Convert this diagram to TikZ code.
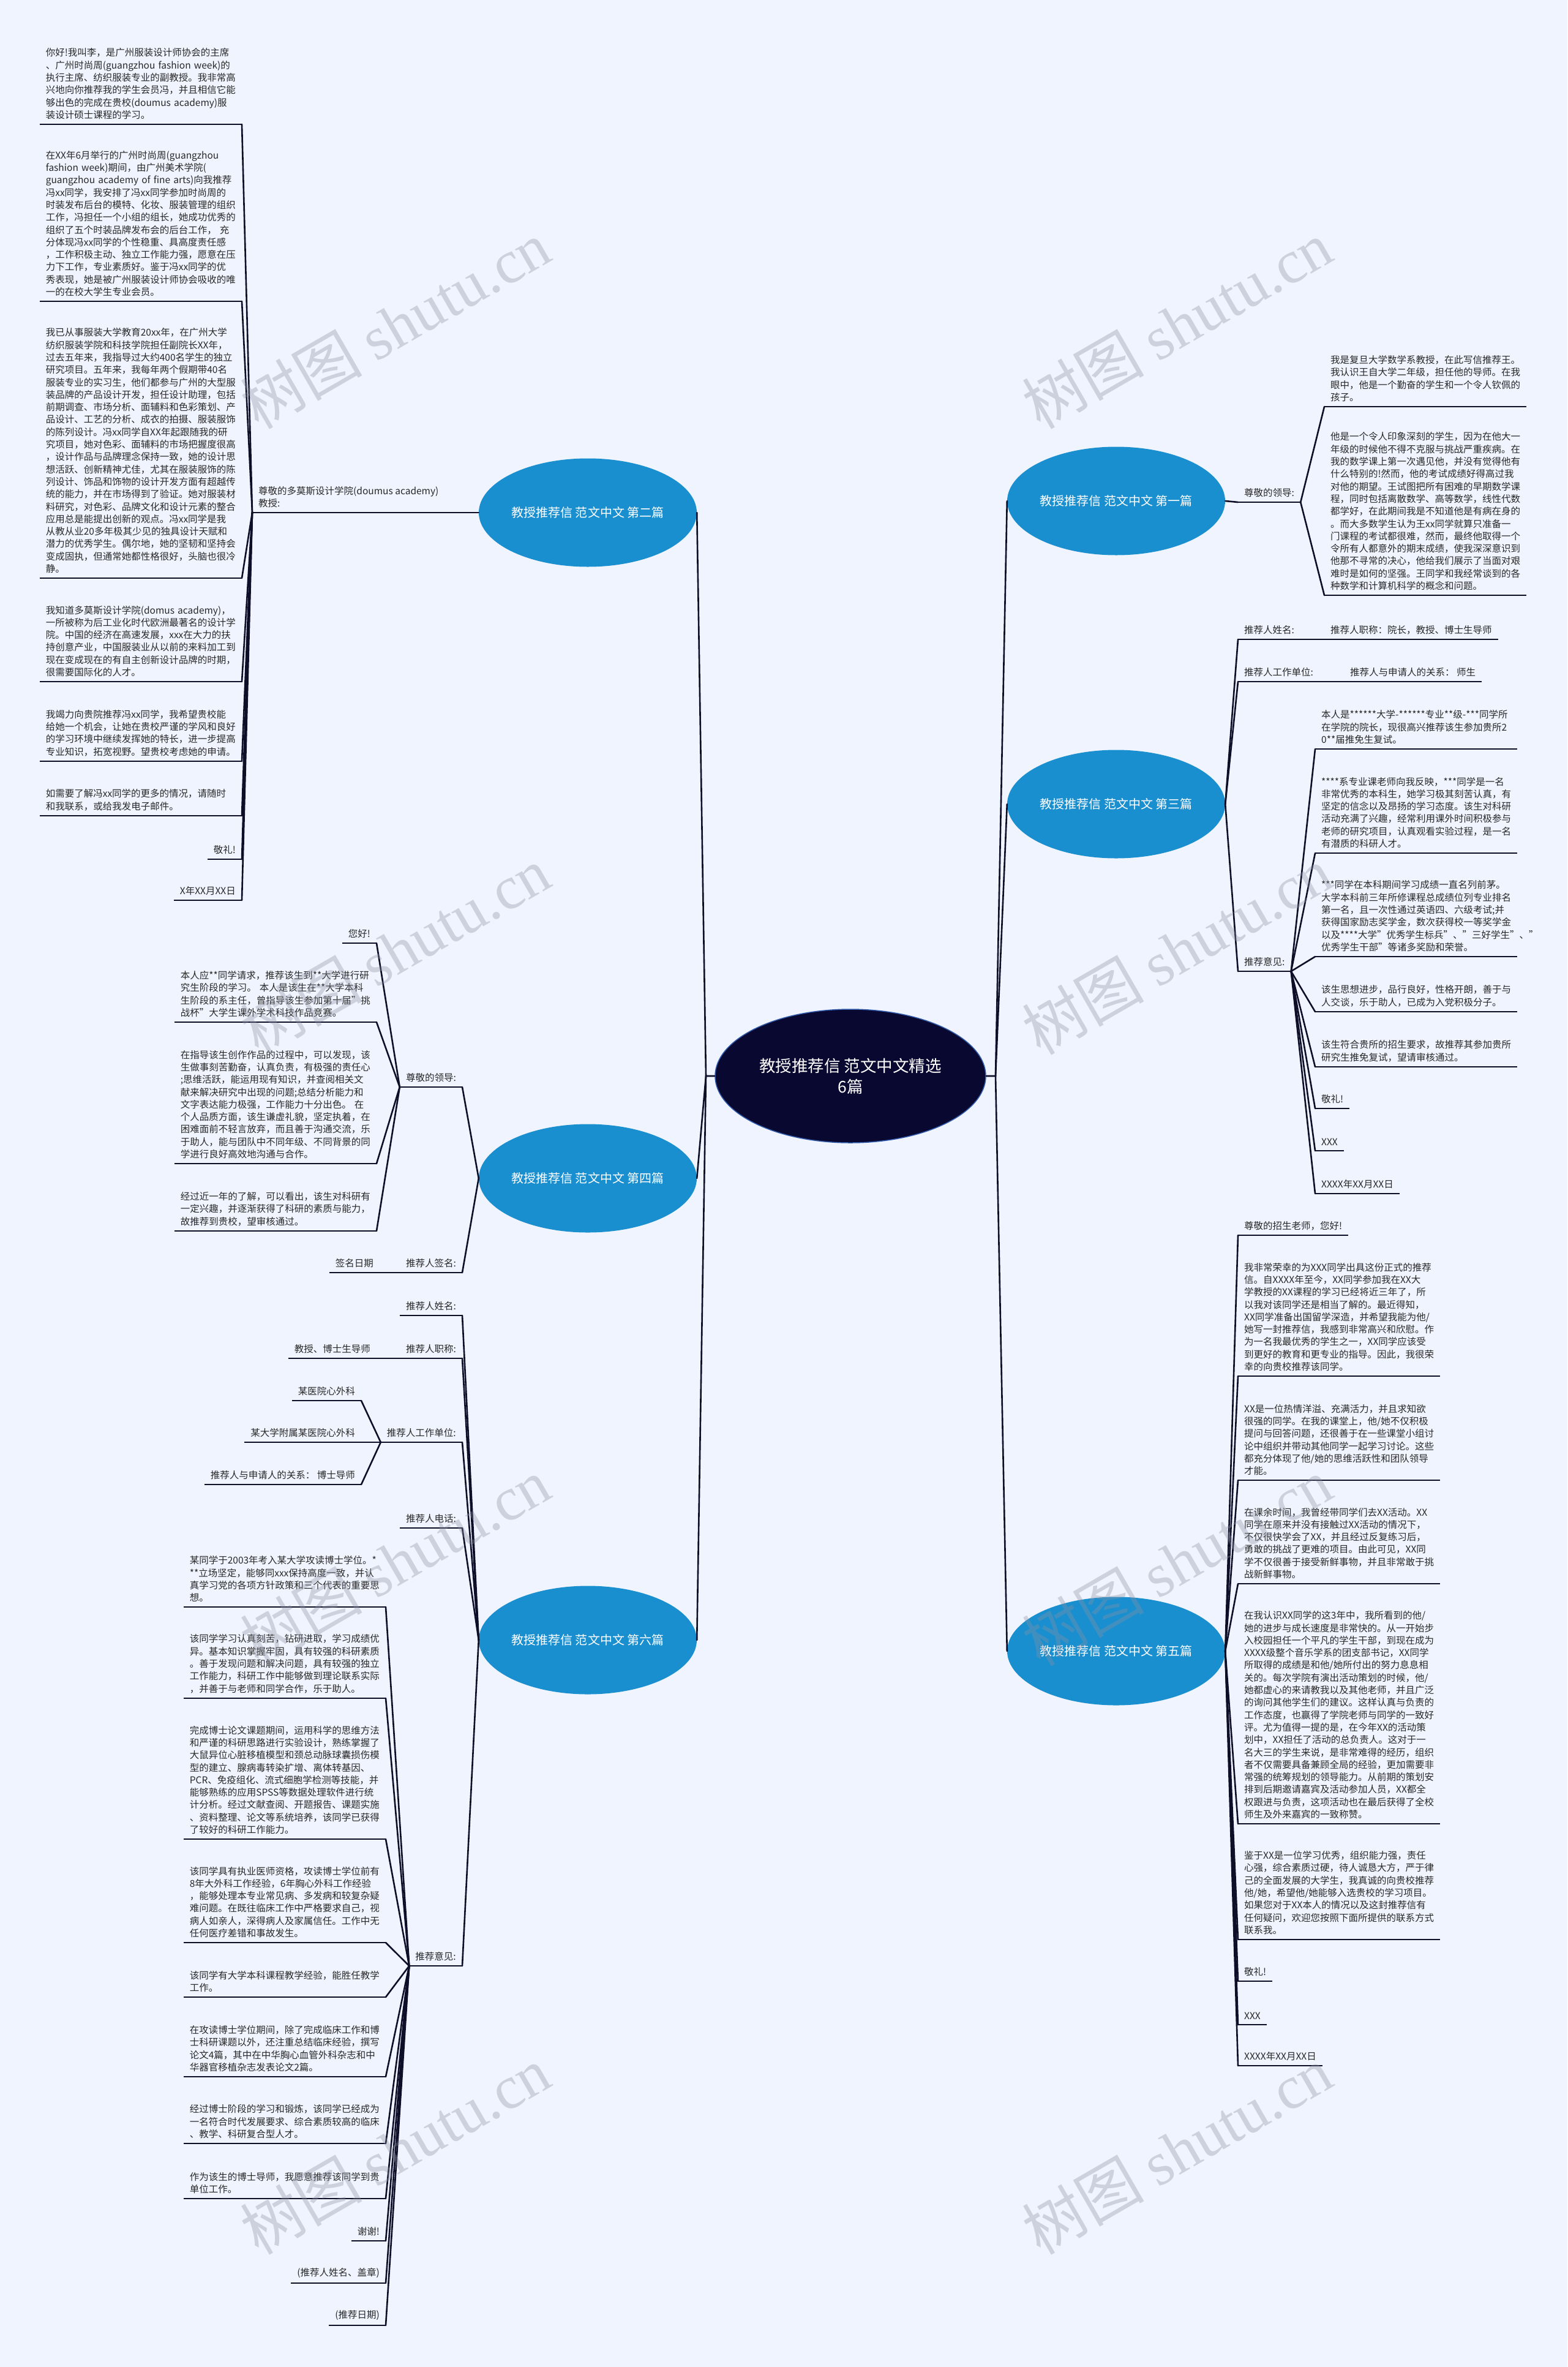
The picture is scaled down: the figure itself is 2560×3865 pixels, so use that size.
\documentclass[tikz,border=0pt]{standalone}
\usepackage{fontspec}
\setmainfont{Noto Sans CJK SC}
\newfontfamily\wmserif{Liberation Serif}
\usetikzlibrary{shapes.geometric}
\definecolor{bgc}{RGB}{239,244,254}
\definecolor{lnc}{RGB}{14,14,40}
\definecolor{brc}{RGB}{26,143,208}
\definecolor{ctc}{RGB}{8,8,48}
\definecolor{ctb}{RGB}{50,90,170}
\definecolor{wmc}{RGB}{140,145,160}
\definecolor{txc}{RGB}{40,40,40}
\newcommand\lfnt{\fontsize{15.5}{20.3}\selectfont\hyphenpenalty=10000\exhyphenpenalty=10000}
\newcommand\bfnt{\fontsize{20}{24}\selectfont}
\newcommand\cfnt{\fontsize{26.5}{34}\selectfont}
\newcommand\wfnt{\fontsize{100}{110}\selectfont}
\tikzset{
  conn/.style={draw=lnc, line width=2.6pt, line cap=round, line join=round},
  uline/.style={draw=lnc, line width=2.4pt},
  leaf/.style={font=\lfnt, text=txc, inner xsep=10pt, inner ysep=8pt, align=left,
    append after command={(\tikzlastnode.south west) edge[uline] (\tikzlastnode.south east)}},
  para/.style={leaf, text width=310pt},
  br/.style={ellipse, fill=brc, text=white, font=\bfnt, minimum width=356pt, minimum height=177pt, inner sep=0pt},
  ctr/.style={ellipse, fill=ctc, draw=ctb, line width=1.5pt, text=white, font=\cfnt, minimum width=442pt, minimum height=218pt, align=center, inner sep=0pt},
  wm/.style={font=\wfnt, text=wmc, opacity=0.35, rotate=30}
}
\begin{document}
\begin{tikzpicture}[x=1pt,y=-1pt]
\fill[bgc] (0,0) rectangle (2560,3865);
\useasboundingbox (0,0) rectangle (2560,3865);

% centre and branches
\node[ctr] (c) at (1389,1757) {教授推荐信~范文中文精选\\6篇};
\node[br] (e2) at (960,837) {教授推荐信~范文中文~第二篇};
\node[br] (e4) at (960,1924) {教授推荐信~范文中文~第四篇};
\node[br] (e6) at (960,2678) {教授推荐信~范文中文~第六篇};
\node[br] (e1) at (1823,818) {教授推荐信~范文中文~第一篇};
\node[br] (e3) at (1823,1313) {教授推荐信~范文中文~第三篇};
\node[br] (e5) at (1823,2696) {教授推荐信~范文中文~第五篇};
\coordinate (cl) at (1153,1757);
\coordinate (cr) at (1626,1757);
\draw[conn] (c.west) -- (cl) -- (e2.east);
\draw[conn] (cl) -- (e4.east);
\draw[conn] (cl) -- (e6.east);
\draw[conn] (c.east) -- (cr) -- (e1.west);
\draw[conn] (cr) -- (e3.west);
\draw[conn] (cr) -- (e5.west);

% ---------- 第二篇 ----------
\node[leaf, anchor=south west] (n2) at (412,837) {尊敬的多莫斯设计学院(doumus~academy)\\教授:};
\draw[conn] (n2.south east) -- (e2.west);
\node[para, anchor=south east] (b2p1) at (395,203) {你好!我叫李，是广州服装设计师协会的主席\\、广州时尚周(guangzhou~fashion~week)的\\执行主席、纺织服装专业的副教授。我非常高\\兴地向你推荐我的学生会员冯，并且相信它能\\够出色的完成在贵校(doumus~academy)服\\装设计硕士课程的学习。};
\node[para, anchor=south east] (b2p2) at (395,492) {在XX年6月举行的广州时尚周(guangzhou\\fashion~week)期间，由广州美术学院(\\guangzhou~academy~of~fine~arts)向我推荐\\冯xx同学，我安排了冯xx同学参加时尚周的\\时装发布后台的模特、化妆、服装管理的组织\\工作，冯担任一个小组的组长，她成功优秀的\\组织了五个时装品牌发布会的后台工作，~充\\分体现冯xx同学的个性稳重、具高度责任感\\，工作积极主动、独立工作能力强，愿意在压\\力下工作，专业素质好。鉴于冯xx同学的优\\秀表现，她是被广州服装设计师协会吸收的唯\\一的在校大学生专业会员。};
\node[para, anchor=south east] (b2p3) at (395,944) {我已从事服装大学教育20xx年，在广州大学\\纺织服装学院和科技学院担任副院长XX年，\\过去五年来，我指导过大约400名学生的独立\\研究项目。五年来，我每年两个假期带40名\\服装专业的实习生，他们都参与广州的大型服\\装品牌的产品设计开发，担任设计助理，包括\\前期调查、市场分析、面辅料和色彩策划、产\\品设计、工艺的分析、成衣的拍摄、服装服饰\\的陈列设计。冯xx同学自XX年起跟随我的研\\究项目，她对色彩、面辅料的市场把握度很高\\，设计作品与品牌理念保持一致，她的设计思\\想活跃、创新精神尤佳，尤其在服装服饰的陈\\列设计、饰品和饰物的设计开发方面有超越传\\统的能力，并在市场得到了验证。她对服装材\\料研究，对色彩、品牌文化和设计元素的整合\\应用总是能提出创新的观点。冯xx同学是我\\从教从业20多年极其少见的独具设计天赋和\\潜力的优秀学生。偶尔地，她的坚韧和坚持会\\变成固执，但通常她都性格很好，头脑也很冷\\静。};
\node[para, anchor=south east] (b2p4) at (395,1113) {我知道多莫斯设计学院(domus~academy)，\\一所被称为后工业化时代欧洲最著名的设计学\\院。中国的经济在高速发展，xxx在大力的扶\\持创意产业，中国服装业从以前的来料加工到\\现在变成现在的有自主创新设计品牌的时期，\\很需要国际化的人才。};
\node[para, anchor=south east] (b2p5) at (395,1243) {我竭力向贵院推荐冯xx同学，我希望贵校能\\给她一个机会，让她在贵校严谨的学风和良好\\的学习环境中继续发挥她的特长，进一步提高\\专业知识，拓宽视野。望贵校考虑她的申请。};
\node[para, anchor=south east] (b2p6) at (395,1332) {如需要了解冯xx同学的更多的情况，请随时\\和我联系，或给我发电子邮件。};
\node[leaf, anchor=south east] (b2p7) at (395,1403) {敬礼!};
\node[leaf, anchor=south east] (b2p8) at (395,1470) {X年XX月XX日};
\foreach \k in {b2p1,b2p2,b2p3,b2p4,b2p5,b2p6,b2p7,b2p8}
  \draw[conn] (n2.south west) -- (\k.south east);

% ---------- 第四篇 ----------
\node[leaf, anchor=south east] (n4a) at (755,1775) {尊敬的领导:};
\node[leaf, anchor=south east] (n4b) at (755,2078) {推荐人签名:};
\draw[conn] (e4.west) -- (n4a.south east);
\draw[conn] (e4.west) -- (n4b.south east);
\node[leaf, anchor=south east] (b4p0) at (615,1540) {您好!};
\node[para, anchor=south east] (b4p1) at (615,1669) {本人应**同学请求，推荐该生到**大学进行研\\究生阶段的学习。~本人是该生在**大学本科\\生阶段的系主任，曾指导该生参加第十届"挑\\战杯"大学生课外学术科技作品竞赛。};
\node[para, anchor=south east] (b4p2) at (615,1900) {在指导该生创作作品的过程中，可以发现，该\\生做事刻苦勤奋，认真负责，有极强的责任心\\;思维活跃，能运用现有知识，并查阅相关文\\献来解决研究中出现的问题;总结分析能力和\\文字表达能力极强，工作能力十分出色。~在\\个人品质方面，该生谦虚礼貌，坚定执着，在\\困难面前不轻言放弃，而且善于沟通交流，乐\\于助人，能与团队中不同年级、不同背景的同\\学进行良好高效地沟通与合作。};
\node[para, anchor=south east] (b4p3) at (615,2010) {经过近一年的了解，可以看出，该生对科研有\\一定兴趣，并逐渐获得了科研的素质与能力，\\故推荐到贵校，望审核通过。};
\foreach \k in {b4p0,b4p1,b4p2,b4p3}
  \draw[conn] (n4a.south west) -- (\k.south east);
\node[leaf, anchor=south east] (b4s) at (620,2078) {签名日期};
\draw[conn] (n4b.south west) -- (b4s.south east);

% ---------- 第六篇 ----------
\node[leaf, anchor=south east] (n6a) at (755,2148) {推荐人姓名:};
\node[leaf, anchor=south east] (n6b) at (755,2218) {推荐人职称:};
\node[leaf, anchor=south east] (n6c) at (755,2355) {推荐人工作单位:};
\node[leaf, anchor=south east] (n6d) at (755,2495) {推荐人电话:};
\node[leaf, anchor=south east] (n6e) at (755,3210) {推荐意见:};
\foreach \k in {n6a,n6b,n6c,n6d,n6e}
  \draw[conn] (e6.west) -- (\k.south east);
\node[leaf, anchor=south east] (b6t) at (615,2218) {教授、博士生导师};
\draw[conn] (n6b.south west) -- (b6t.south east);
\node[leaf, anchor=south east] (b6w1) at (590,2287) {某医院心外科};
\node[leaf, anchor=south east] (b6w2) at (590,2355) {某大学附属某医院心外科};
\node[leaf, anchor=south east] (b6w3) at (590,2424) {推荐人与申请人的关系：~博士导师};
\foreach \k in {b6w1,b6w2,b6w3}
  \draw[conn] (n6c.south west) -- (\k.south east);
\node[para, anchor=south east] (q1) at (630,2624) {某同学于2003年考入某大学攻读博士学位。*\\{}**立场坚定，能够同xxx保持高度一致，并认\\真学习党的各项方针政策和三个代表的重要思\\想。};
\node[para, anchor=south east] (q2) at (630,2773) {该同学学习认真刻苦，钻研进取，学习成绩优\\异。基本知识掌握牢固，具有较强的科研素质\\。善于发现问题和解决问题，具有较强的独立\\工作能力，科研工作中能够做到理论联系实际\\，并善于与老师和同学合作，乐于助人。};
\node[para, anchor=south east] (q3) at (630,3003) {完成博士论文课题期间，运用科学的思维方法\\和严谨的科研思路进行实验设计，熟练掌握了\\大鼠异位心脏移植模型和颈总动脉球囊损伤模\\型的建立、腺病毒转染扩增、离体转基因、\\PCR、免疫组化、流式细胞学检测等技能，并\\能够熟练的应用SPSS等数据处理软件进行统\\计分析。经过文献查阅、开题报告、课题实施\\、资料整理、论文等系统培养，该同学已获得\\了较好的科研工作能力。};
\node[para, anchor=south east] (q4) at (630,3172) {该同学具有执业医师资格，攻读博士学位前有\\8年大外科工作经验，6年胸心外科工作经验\\，能够处理本专业常见病、多发病和较复杂疑\\难问题。在既往临床工作中严格要求自己，视\\病人如亲人，深得病人及家属信任。工作中无\\任何医疗差错和事故发生。};
\node[para, anchor=south east] (q5) at (630,3261) {该同学有大学本科课程教学经验，能胜任教学\\工作。};
\node[para, anchor=south east] (q6) at (630,3391) {在攻读博士学位期间，除了完成临床工作和博\\士科研课题以外，还注重总结临床经验，撰写\\论文4篇，其中在中华胸心血管外科杂志和中\\华器官移植杂志发表论文2篇。};
\node[para, anchor=south east] (q7) at (630,3500) {经过博士阶段的学习和锻炼，该同学已经成为\\一名符合时代发展要求、综合素质较高的临床\\、教学、科研复合型人才。};
\node[para, anchor=south east] (q8) at (630,3590) {作为该生的博士导师，我愿意推荐该同学到贵\\单位工作。};
\node[leaf, anchor=south east] (q9) at (630,3659) {谢谢!};
\node[leaf, anchor=south east] (q10) at (630,3728) {(推荐人姓名、盖章)};
\node[leaf, anchor=south east] (q11) at (630,3797) {(推荐日期)};
\foreach \k in {q1,q2,q3,q4,q5,q6,q7,q8,q9,q10,q11}
  \draw[conn] (n6e.south west) -- (\k.south east);

% ---------- 第一篇 ----------
\node[leaf, anchor=south west] (n1) at (2022,820) {尊敬的领导:};
\draw[conn] (e1.east) -- (n1.south west);
\node[para, anchor=south west] (a1) at (2163,664) {我是复旦大学数学系教授，在此写信推荐王。\\我认识王自大学二年级，担任他的导师。在我\\眼中，他是一个勤奋的学生和一个令人钦佩的\\孩子。};
\node[para, anchor=south west] (a2) at (2163,972) {他是一个令人印象深刻的学生，因为在他大一\\年级的时候他不得不克服与挑战严重疾病。在\\我的数学课上第一次遇见他，并没有觉得他有\\什么特别的!然而，他的考试成绩好得高过我\\对他的期望。王试图把所有困难的早期数学课\\程，同时包括离散数学、高等数学，线性代数\\都学好，在此期间我是不知道他是有病在身的\\。而大多数学生认为王xx同学就算只准备一\\门课程的考试都很难，然而，最终他取得一个\\令所有人都意外的期末成绩，使我深深意识到\\他那不寻常的决心，他给我们展示了当面对艰\\难时是如何的坚强。王同学和我经常谈到的各\\种数学和计算机科学的概念和问题。};
\draw[conn] (n1.south east) -- (a1.south west);
\draw[conn] (n1.south east) -- (a2.south west);

% ---------- 第三篇 ----------
\node[leaf, anchor=south west] (n3a) at (2022,1044) {推荐人姓名:};
\node[leaf, anchor=south west] (n3b) at (2022,1113) {推荐人工作单位:};
\node[leaf, anchor=south west] (n3c) at (2022,1586) {推荐意见:};
\foreach \k in {n3a,n3b,n3c}
  \draw[conn] (e3.east) -- (\k.south west);
\node[leaf, anchor=south west] (t1) at (2163,1044) {推荐人职称：院长，教授、博士生导师};
\draw[conn] (n3a.south east) -- (t1.south west);
\node[leaf, anchor=south west] (t2) at (2195,1113) {推荐人与申请人的关系：~师生};
\draw[conn] (n3b.south east) -- (t2.south west);
\node[para, anchor=south west] (r1) at (2148,1223) {本人是******大学-******专业**级-***同学所\\在学院的院长，现很高兴推荐该生参加贵所2\\0**届推免生复试。};
\node[para, anchor=south west] (r2) at (2148,1393) {****系专业课老师向我反映，***同学是一名\\非常优秀的本科生，她学习极其刻苦认真，有\\坚定的信念以及昂扬的学习态度。该生对科研\\活动充满了兴趣，经常利用课外时间积极参与\\老师的研究项目，认真观看实验过程，是一名\\有潜质的科研人才。};
\node[para, anchor=south west] (r3) at (2148,1562) {***同学在本科期间学习成绩一直名列前茅。\\大学本科前三年所修课程总成绩位列专业排名\\第一名，且一次性通过英语四、六级考试;并\\获得国家励志奖学金，数次获得校一等奖学金\\以及****大学"优秀学生标兵"、"三好学生"、"\\优秀学生干部"等诸多奖励和荣誉。};
\node[para, anchor=south west] (r4) at (2148,1652) {该生思想进步，品行良好，性格开朗，善于与\\人交谈，乐于助人，已成为入党积极分子。};
\node[para, anchor=south west] (r5) at (2148,1742) {该生符合贵所的招生要求，故推荐其参加贵所\\研究生推免复试，望请审核通过。};
\node[leaf, anchor=south west] (r6) at (2148,1810) {敬礼!};
\node[leaf, anchor=south west] (r7) at (2148,1879) {XXX};
\node[leaf, anchor=south west] (r8) at (2148,1949) {XXXX年XX月XX日};
\foreach \k in {r1,r2,r3,r4,r5,r6,r7,r8}
  \draw[conn] (n3c.south east) -- (\k.south west);

% ---------- 第五篇 ----------
\node[leaf, anchor=south west] (s0) at (2022,2017) {尊敬的招生老师，您好!};
\node[para, anchor=south west] (s1) at (2022,2247) {我非常荣幸的为XXX同学出具这份正式的推荐\\信。自XXXX年至今，XX同学参加我在XX大\\学教授的XX课程的学习已经将近三年了，所\\以我对该同学还是相当了解的。最近得知，\\XX同学准备出国留学深造，并希望我能为他/\\她写一封推荐信，我感到非常高兴和欣慰。作\\为一名我最优秀的学生之一，XX同学应该受\\到更好的教育和更专业的指导。因此，我很荣\\幸的向贵校推荐该同学。};
\node[para, anchor=south west] (s2) at (2022,2417) {XX是一位热情洋溢、充满活力，并且求知欲\\很强的同学。在我的课堂上，他/她不仅积极\\提问与回答问题，还很善于在一些课堂小组讨\\论中组织并带动其他同学一起学习讨论。这些\\都充分体现了他/她的思维活跃性和团队领导\\才能。};
\node[para, anchor=south west] (s3) at (2022,2586) {在课余时间，我曾经带同学们去XX活动。XX\\同学在原来并没有接触过XX活动的情况下，\\不仅很快学会了XX，并且经过反复练习后，\\勇敢的挑战了更难的项目。由此可见，XX同\\学不仅很善于接受新鲜事物，并且非常敢于挑\\战新鲜事物。};
\node[para, anchor=south west] (s4) at (2022,2978) {在我认识XX同学的这3年中，我所看到的他/\\她的进步与成长速度是非常快的。从一开始步\\入校园担任一个平凡的学生干部，到现在成为\\XXXX级整个音乐学系的团支部书记，XX同学\\所取得的成绩是和他/她所付出的努力息息相\\关的。每次学院有演出活动策划的时候，他/\\她都虚心的来请教我以及其他老师，并且广泛\\的询问其他学生们的建议。这样认真与负责的\\工作态度，也赢得了学院老师与同学的一致好\\评。尤为值得一提的是，在今年XX的活动策\\划中，XX担任了活动的总负责人。这对于一\\名大三的学生来说，是非常难得的经历，组织\\者不仅需要具备兼顾全局的经验，更加需要非\\常强的统筹规划的领导能力。从前期的策划安\\排到后期邀请嘉宾及活动参加人员，XX都全\\权跟进与负责，这项活动也在最后获得了全校\\师生及外来嘉宾的一致称赞。};
\node[para, anchor=south west] (s5) at (2022,3167) {鉴于XX是一位学习优秀，组织能力强，责任\\心强，综合素质过硬，待人诚恳大方，严于律\\己的全面发展的大学生，我真诚的向贵校推荐\\他/她，希望他/她能够入选贵校的学习项目。\\如果您对于XX本人的情况以及这封推荐信有\\任何疑问，欢迎您按照下面所提供的联系方式\\联系我。};
\node[leaf, anchor=south west] (s6) at (2022,3235) {敬礼!};
\node[leaf, anchor=south west] (s7) at (2022,3306) {XXX};
\node[leaf, anchor=south west] (s8) at (2022,3373) {XXXX年XX月XX日};
\foreach \k in {s0,s1,s2,s3,s4,s5,s6,s7,s8}
  \draw[conn] (e5.east) -- (\k.south west);

% ---------- watermarks ----------
\node[wm] (wm1) at (645,530) {树图~{\wmserif shutu.cn}};
\node[wm] (wm2) at (1922,530) {树图~{\wmserif shutu.cn}};
\node[wm] (wm3) at (645,1552) {树图~{\wmserif shutu.cn}};
\node[wm] (wm4) at (1922,1552) {树图~{\wmserif shutu.cn}};
\node[wm] (wm5) at (645,2550) {树图~{\wmserif shutu.cn}};
\node[wm] (wm6) at (1922,2550) {树图~{\wmserif shutu.cn}};
\node[wm] (wm7) at (645,3511) {树图~{\wmserif shutu.cn}};
\node[wm] (wm8) at (1922,3511) {树图~{\wmserif shutu.cn}};
\end{tikzpicture}
\end{document}
